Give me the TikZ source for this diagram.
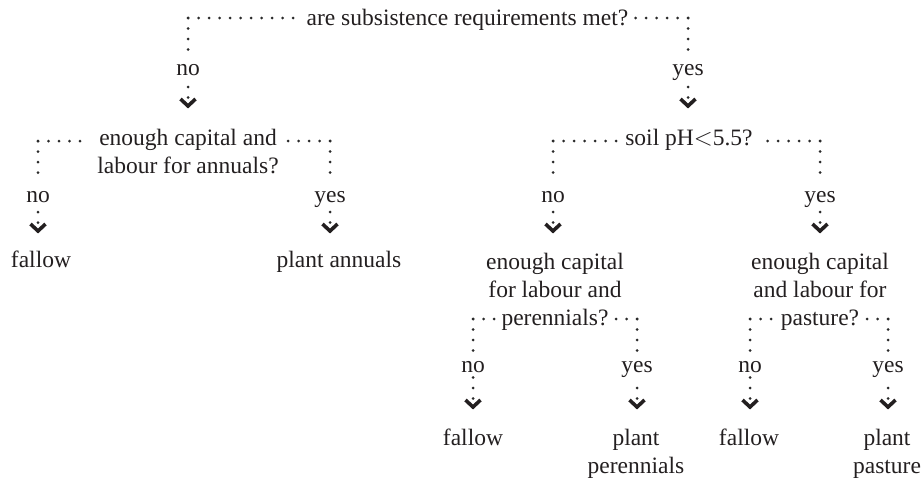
\documentclass[tikz,border=0pt]{standalone}
\usepackage{fontspec}
\setmainfont{Liberation Serif}
\definecolor{ink}{HTML}{231F20}
\definecolor{dotc}{HTML}{2A2A2A}
\tikzset{
  txt/.style={font=\fontsize{23.5}{28}\selectfont, text=ink, inner sep=0pt, align=center, anchor=base},
  dotl/.style={line width=3pt, line cap=round, dash pattern=on 0pt off 10.5pt, draw=dotc},
  chev/.style={line width=3.6pt, line join=miter, draw=ink},
}
\newcommand{\chevto}[2]{%
  \draw[dotl, shorten >=4pt] ([yshift=8.5pt]#2) -- (#1.south);
  \draw[chev] ([shift={(-7.5pt,7pt)}]#2) -- (#2) -- ([shift={(7.5pt,7pt)}]#2);}
\newcommand{\downto}[2]{%
  \draw[dotl, shorten >=8pt] (#1) -- (#2.north);}
\begin{document}
\begin{tikzpicture}[x=1pt,y=-1pt]
\useasboundingbox (0,0) rectangle (923,482);

% ---- level 1
\node[txt] (q1) at (467.5,25) {are subsistence requirements met?};
\coordinate (c1a) at (188,18);
\coordinate (c1b) at (688,18);
\node[txt] (l1n) at (188,75) {no};
\node[txt] (l1y) at (688,75) {yes};
\coordinate (t1n) at (188,106);
\coordinate (t1y) at (688,106);
\draw[dotl, shorten >=9pt] (c1a) -- (q1.west |- c1a);
\draw[dotl, shorten >=3pt] (c1b) -- (q1.east |- c1b);
\downto{c1a}{l1n}
\downto{c1b}{l1y}
\chevto{l1n}{t1n}
\chevto{l1y}{t1y}

% ---- level 2 (base anchor = last line)
\node[txt] (q2) at (188,173) {enough capital and\\labour for annuals?};
\node[txt] (q3) at (689,145) {soil pH$<$5.5?};
\coordinate (c2a) at (38,141);
\coordinate (c2b) at (330,141);
\coordinate (c3a) at (553,141);
\coordinate (c3b) at (820,141);
\draw[dotl, shorten >=9pt] (c2a) -- (q2.west |- c2a);
\draw[dotl, shorten >=3pt] (c2b) -- (q2.east |- c2b);
\draw[dotl, shorten >=9pt] (c3a) -- (q3.west |- c3a);
\draw[dotl, shorten >=9pt] (c3b) -- (q3.east |- c3b);
\node[txt] (l2n) at (38,202) {no};
\node[txt] (l2y) at (330,202) {yes};
\node[txt] (l3n) at (553,202) {no};
\node[txt] (l3y) at (820,202) {yes};
\downto{c2a}{l2n}
\downto{c2b}{l2y}
\downto{c3a}{l3n}
\downto{c3b}{l3y}
\coordinate (t2n) at (38,231);
\coordinate (t2y) at (330,231);
\coordinate (t3n) at (553,231);
\coordinate (t3y) at (820,231);
\chevto{l2n}{t2n}
\chevto{l2y}{t2y}
\chevto{l3n}{t3n}
\chevto{l3y}{t3y}

% ---- level 3
\node[txt] (f1) at (41,267) {fallow};
\node[txt] (p1) at (339,267) {plant annuals};
\node[txt] (q4) at (555,325) {enough capital\\for labour and\\perennials?};
\node[txt] (q5) at (820,325) {enough capital\\and labour for\\pasture?};
\coordinate (c4a) at (473,319);
\coordinate (c4b) at (637,319);
\coordinate (c5a) at (750,319);
\coordinate (c5b) at (888,319);
\coordinate (e4a) at (497,319);
\coordinate (e4b) at (613,319);
\coordinate (e5a) at (773,319);
\coordinate (e5b) at (864,319);
\draw[dotl] (c4a) -- (e4a);
\draw[dotl] (c4b) -- (e4b);
\draw[dotl] (c5a) -- (e5a);
\draw[dotl] (c5b) -- (e5b);
\node[txt] (l4n) at (473,372) {no};
\node[txt] (l4y) at (637,372) {yes};
\node[txt] (l5n) at (750,372) {no};
\node[txt] (l5y) at (888,372) {yes};
\downto{c4a}{l4n}
\downto{c4b}{l4y}
\downto{c5a}{l5n}
\downto{c5b}{l5y}
\coordinate (t4n) at (473,407);
\coordinate (t4y) at (637,407);
\coordinate (t5n) at (750,407);
\coordinate (t5y) at (888,407);
\chevto{l4n}{t4n}
\chevto{l4y}{t4y}
\chevto{l5n}{t5n}
\chevto{l5y}{t5y}

% ---- leaves
\node[txt] (f2) at (473,445) {fallow};
\node[txt] (p2) at (636,473) {plant\\perennials};
\node[txt] (f3) at (749,445) {fallow};
\node[txt] (p3) at (887,473) {plant\\pasture};
\end{tikzpicture}
\end{document}
